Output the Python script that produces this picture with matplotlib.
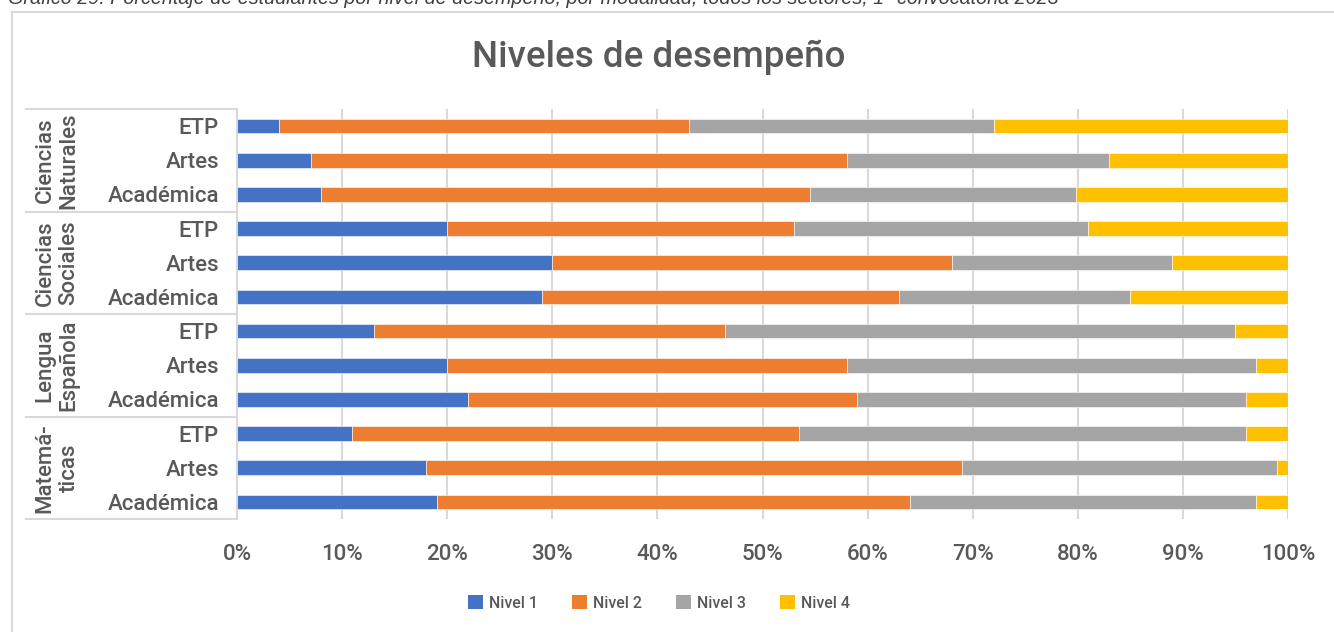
import matplotlib
matplotlib.use("Agg")
import matplotlib.pyplot as plt
from matplotlib.patches import Patch
from matplotlib.lines import Line2D
from matplotlib.transforms import blended_transform_factory
import numpy as np

plt.rcParams['font.family'] = ['Roboto', 'DejaVu Sans']
plt.rcParams['font.weight'] = 'medium'

subjects = ["Ciencias\nNaturales", "Ciencias\nSociales", "Lengua\nEspañola", "Matemá-\nticas"]
modalities = ["ETP", "Artes", "Académica"]
levels = ["Nivel 1", "Nivel 2", "Nivel 3", "Nivel 4"]

# % por fila, de arriba hacia abajo (asignatura x modalidad)
nivel1 = [4, 7, 8, 20, 30, 29, 13, 20, 22, 10.9, 18, 19]
nivel2 = [39, 51, 46.5, 33, 38, 34, 33.4, 38, 37, 42.6, 51, 45]
nivel3 = [29, 25, 25.3, 28, 21, 22, 48.6, 39, 37, 42.5, 30, 33]
nivel4 = [28, 17, 20.2, 19, 11, 15, 5, 3, 4, 4, 1, 3]

colors = ["#4472C4", "#ED7D31", "#A5A5A5", "#FFC000"]
text_color = "#595959"
line_color = "#D9D9D9"

W, H = 1334, 632
fig = plt.figure(figsize=(W / 100, H / 100), dpi=100)

# caption above the chart box (cut off at top, as in the source)
fig.text(8 / W, 1 - 4 / H,
         "Gráfico 29: Porcentaje de estudiantes por nivel de desempeño, por modalidad, "
         "todos los sectores, 1ª convocatoria 2023",
         family="Liberation Sans", weight="normal", style="italic", fontsize=14.2,
         color="#404040", ha="left", va="baseline")

# chart box border
fig.add_artist(Line2D([12 / W, 1], [1 - 12 / H, 1 - 12 / H], color=line_color, lw=1.5))
fig.add_artist(Line2D([12 / W, 12 / W], [0, 1 - 12 / H], color=line_color, lw=1.5))

fig.text(659 / W, 1 - 57 / H, "Niveles de desempeño", fontsize=26.5,
         color=text_color, ha="center", va="center")

ax = fig.add_axes([237 / W, 1 - 519 / H, (1288 - 237) / W, 410 / H])

labels = [m for s in subjects for m in modalities]
y = np.arange(len(labels))
left = np.zeros(len(labels))
for vals, c, name in zip([nivel1, nivel2, nivel3, nivel4], colors, levels):
    vals = np.array(vals)
    ax.barh(y, vals, left=left, height=0.43, color=c, edgecolor="white",
            linewidth=0.4, label=name, zorder=3)
    left += vals

ax.set_xlim(0, 100)
ax.set_ylim(len(labels) - 0.5, -0.5)
ax.set_xticks(np.arange(0, 101, 10))
ax.set_xticklabels([f"{v}%" for v in range(0, 101, 10)])
ax.set_yticks(y)
ax.set_yticklabels(labels)
ax.tick_params(axis="x", length=0, pad=18, labelsize=16, labelcolor=text_color)
ax.tick_params(axis="y", length=0, pad=13, labelsize=16, labelcolor=text_color)
ax.grid(axis="x", color=line_color, lw=1.5, zorder=0)
for side in ["top", "right", "bottom"]:
    ax.spines[side].set_visible(False)
ax.spines["left"].set_color(line_color)
ax.spines["left"].set_linewidth(1.5)

# group labels and separators
tr = blended_transform_factory(fig.transFigure, ax.transData)
for i, s in enumerate(subjects):
    ax.text(57 / W, i * 3 + 1, s, transform=tr, rotation=90, ha="center",
            va="center", multialignment="center", fontsize=16,
            color=text_color, linespacing=1.2)
for b in [-0.5, 2.5, 5.5, 8.5, 11.5]:
    ax.add_line(Line2D([26 / W, 237 / W], [b, b], transform=tr,
                       color=line_color, lw=1.5, clip_on=False))

handles = [Patch(facecolor=c, label=n) for c, n in zip(colors, levels)]
fig.legend(handles=handles, loc="center", bbox_to_anchor=(659 / W, 1 - 603 / H),
           ncol=4, frameon=False, fontsize=11.5, handlelength=0.95,
           handleheight=0.95, handletextpad=0.4, columnspacing=2.1,
           labelcolor=text_color)

fig.savefig("out.png", dpi=100)
